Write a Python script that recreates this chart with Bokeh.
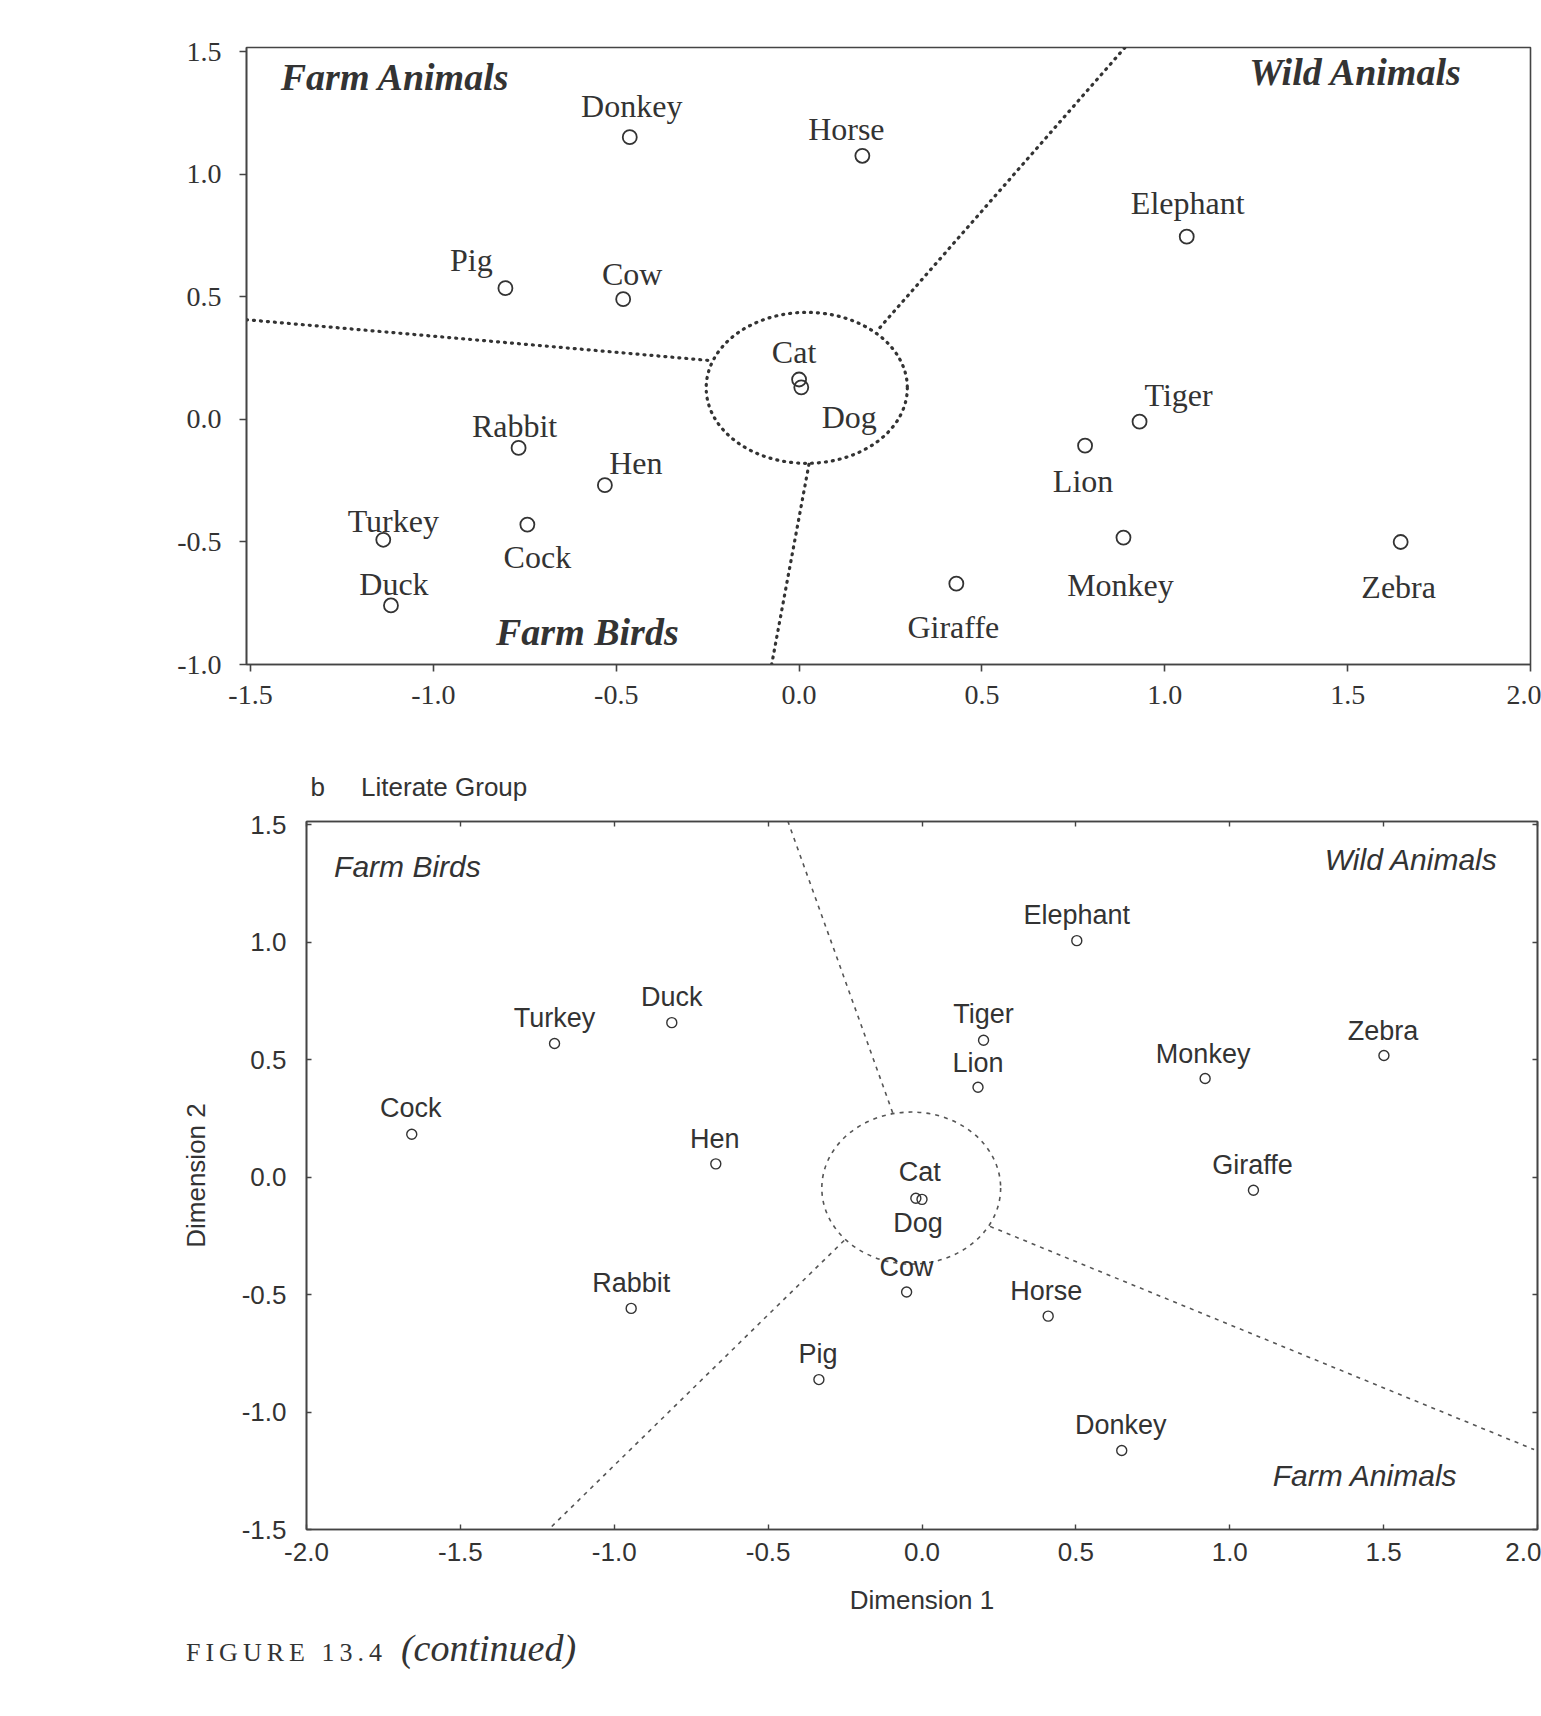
from bokeh.plotting import figure
from bokeh.models import (ColumnDataSource, Range1d, LinearAxis, SingleIntervalTicker,
                          PrintfTickFormatter, Div)
from bokeh.core.properties import value
from bokeh.embed import file_html
from bokeh.resources import INLINE

# ---------------- panel a (top) data ----------------
a_animals = ["Donkey", "Horse", "Elephant", "Pig", "Cow", "Cat", "Dog", "Tiger", "Lion",
             "Rabbit", "Hen", "Turkey", "Cock", "Duck", "Monkey", "Zebra", "Giraffe"]
a_dim1 = [-0.463, 0.173, 1.060, -0.803, -0.481, 0.000, 0.006, 0.931, 0.782,
          -0.767, -0.531, -1.137, -0.743, -1.116, 0.887, 1.645, 0.430]
a_dim2 = [1.152, 1.076, 0.746, 0.536, 0.491, 0.163, 0.131, -0.009, -0.107,
          -0.116, -0.268, -0.491, -0.429, -0.759, -0.482, -0.500, -0.670]
a_regions = ["Farm Animals", "Wild Animals", "Farm Birds"]
a_region_x = [-1.104, 1.522, -0.579]
a_region_y = [1.397, 1.420, -0.866]
a_bound_x = [[-1.511, -0.248], [0.221, 0.907], [0.027, -0.075]]
a_bound_y = [[0.407, 0.241], [0.375, 1.545], [-0.183, -1.000]]
a_cluster_x = [0.021]
a_cluster_y = [0.129]
a_cluster_w = [0.550]
a_cluster_h = [0.616]

# ---------------- panel b (bottom) data ----------------
b_animals = ["Elephant", "Duck", "Turkey", "Tiger", "Lion", "Zebra", "Monkey", "Cock", "Hen",
             "Cat", "Dog", "Giraffe", "Cow", "Rabbit", "Horse", "Pig", "Donkey"]
b_dim1 = [0.503, -0.813, -1.194, 0.200, 0.182, 1.501, 0.920, -1.658, -0.670,
          -0.020, 0.000, 1.077, -0.050, -0.945, 0.410, -0.335, 0.649]
b_dim2 = [1.006, 0.657, 0.568, 0.582, 0.382, 0.517, 0.419, 0.182, 0.056,
          -0.090, -0.095, -0.056, -0.489, -0.559, -0.592, -0.862, -1.164]
b_regions = ["Farm Birds", "Wild Animals", "Farm Animals"]
b_region_x = [-1.672, 1.590, 1.440]
b_region_y = [1.323, 1.351, -1.272]
b_bound_x = [[-0.446, -0.093], [-0.253, -1.213], [0.221, 1.989]]
b_bound_y = [[1.551, 0.265], [-0.270, -1.500], [-0.210, -1.160]]
b_cluster_x = [-0.035]
b_cluster_y = [-0.047]
b_cluster_w = [0.581]
b_cluster_h = [0.647]

x_label_b = "Dimension 1"
y_label_b = "Dimension 2"
panel_b_title = "b\u00a0\u00a0\u00a0\u00a0\u00a0Literate Group"

# ---------------- label placement (style, screen px) ----------------
a_offsets = {"Donkey": (2, -31), "Horse": (-16, -27), "Elephant": (1, -34), "Pig": (-34, -28),
             "Cow": (9, -25), "Cat": (-5, -28), "Dog": (48, 30), "Tiger": (39, -27),
             "Lion": (-2, 35), "Rabbit": (-4, -22), "Hen": (31, -22), "Turkey": (10, -19),
             "Cock": (10, 32), "Duck": (3, -21), "Monkey": (-3, 47), "Zebra": (-2, 45),
             "Giraffe": (-3, 43)}
b_offsets = {"Elephant": (0, -26), "Duck": (0, -26), "Turkey": (0, -26), "Tiger": (0, -26),
             "Lion": (0, -24), "Zebra": (-1, -25), "Monkey": (-2, -25), "Cock": (-1, -26),
             "Hen": (-1, -25), "Cat": (4, -26), "Dog": (-4, 24), "Giraffe": (-1, -25),
             "Cow": (0, -25), "Rabbit": (0, -25), "Horse": (-2, -25), "Pig": (-1, -26),
             "Donkey": (-1, -26)}

INK = "#333333"
SERIF = "Liberation Serif"
SANS = "Liberation Sans"

# ======================= panel a =======================
src_a = ColumnDataSource(dict(x=a_dim1, y=a_dim2, name=a_animals,
                              dx=[a_offsets[n][0] for n in a_animals],
                              dy=[a_offsets[n][1] for n in a_animals]))

pa = figure(width=1541, height=748, x_range=Range1d(-1.511, 2.0), y_range=Range1d(-1.0, 1.518),
            output_backend="svg", toolbar_location=None,
            min_border_left=246, min_border_right=11, min_border_top=47, min_border_bottom=84,
            background_fill_color="white", border_fill_color="white",
            outline_line_color="#444444", outline_line_width=1.6)
pa.xgrid.visible = False
pa.ygrid.visible = False
for ax in (pa.below[0], pa.left[0]):
    ax.ticker = SingleIntervalTicker(interval=0.5, num_minor_ticks=0)
    ax.formatter = PrintfTickFormatter(format="%.1f")
    ax.major_tick_out = 7
    ax.major_tick_in = 0
    ax.minor_tick_out = 0
    ax.major_tick_line_color = "#444444"
    ax.major_tick_line_width = 1.6
    ax.axis_line_color = "#444444"
    ax.axis_line_width = 1.6
    ax.major_label_text_font = SERIF
    ax.major_label_text_font_size = "28px"
    ax.major_label_text_color = INK
pa.below[0].major_label_standoff = 14
pa.left[0].major_label_standoff = 18

pa.multi_line(xs=a_bound_x, ys=a_bound_y, line_color="#333333", line_width=3.2,
              line_dash="1 6", line_cap="round")
pa.ellipse(x=a_cluster_x, y=a_cluster_y, width=a_cluster_w, height=a_cluster_h,
           fill_color=None, line_color="#333333", line_width=3.2, line_dash="1 6", line_cap="round")
pa.scatter(x="x", y="y", source=src_a, marker="circle", size=14, fill_color=None,
           line_color="#333333", line_width=1.8)
pa.text(x="x", y="y", text="name", source=src_a, x_offset="dx", y_offset="dy",
        text_align="center", text_baseline="middle", text_font=value(SERIF),
        text_font_size="32px", text_color=INK)
pa.text(x=a_region_x, y=a_region_y, text=a_regions, text_align="center", text_baseline="middle",
        text_font=value(SERIF), text_font_style="bold italic", text_font_size="38px",
        text_color=INK)

# ======================= panel b =======================
src_b = ColumnDataSource(dict(x=b_dim1, y=b_dim2, name=b_animals,
                              dx=[b_offsets[n][0] for n in b_animals],
                              dy=[b_offsets[n][1] for n in b_animals]))

pb = figure(width=1541, height=880, x_range=Range1d(-2.0, 2.0), y_range=Range1d(-1.5, 1.513),
            output_backend="svg", toolbar_location=None,
            min_border_left=306, min_border_right=4, min_border_top=73, min_border_bottom=99,
            background_fill_color="white", border_fill_color="white",
            outline_line_color="#444444", outline_line_width=1.6)
pb.xgrid.visible = False
pb.ygrid.visible = False
pb.add_layout(LinearAxis(), "above")
pb.add_layout(LinearAxis(), "right")
for ax in (pb.below[0], pb.left[0], pb.above[0], pb.right[0]):
    ax.ticker = SingleIntervalTicker(interval=0.5, num_minor_ticks=0)
    ax.formatter = PrintfTickFormatter(format="%.1f")
    ax.major_tick_out = 0
    ax.major_tick_in = 5
    ax.minor_tick_out = 0
    ax.minor_tick_in = 0
    ax.major_tick_line_color = "#444444"
    ax.major_tick_line_width = 1.4
    ax.axis_line_color = "#444444"
    ax.axis_line_width = 1.6
    ax.major_label_text_font = SANS
    ax.major_label_text_font_size = "26px"
    ax.major_label_text_color = INK
for ax in (pb.above[0], pb.right[0]):
    ax.major_label_text_font_size = "0px"
    ax.major_label_text_color = None
    ax.major_label_standoff = 0
bx = pb.below[0]
ly = pb.left[0]
bx.major_label_standoff = 13
ly.major_label_standoff = 20
bx.axis_label = x_label_b
ly.axis_label = y_label_b
for ax in (bx, ly):
    ax.axis_label_text_font = SANS
    ax.axis_label_text_font_size = "26px"
    ax.axis_label_text_font_style = "normal"
    ax.axis_label_text_color = INK
bx.axis_label_standoff = 21
ly.axis_label_standoff = 28

pb.title.text = panel_b_title
pb.title.align = "left"
pb.title.offset = 4
pb.title.standoff = 40
pb.title.text_font = SANS
pb.title.text_font_size = "26px"
pb.title.text_font_style = "normal"
pb.title.text_color = INK

pb.multi_line(xs=b_bound_x, ys=b_bound_y, line_color="#555555", line_width=1.6, line_dash="4 5")
pb.ellipse(x=b_cluster_x, y=b_cluster_y, width=b_cluster_w, height=b_cluster_h,
           fill_color=None, line_color="#555555", line_width=1.6, line_dash="4 5")
pb.scatter(x="x", y="y", source=src_b, marker="circle", size=10, fill_color=None,
           line_color="#333333", line_width=1.4)
pb.text(x="x", y="y", text="name", source=src_b, x_offset="dx", y_offset="dy",
        text_align="center", text_baseline="middle", text_font=value(SANS),
        text_font_size="27px", text_color=INK)
pb.text(x=b_region_x, y=b_region_y, text=b_regions, text_align="center", text_baseline="middle",
        text_font=value(SANS), text_font_style="italic", text_font_size="30px", text_color=INK)

caption = Div(
    text=('<div style="position:relative;top:-7px;padding-left:186px;color:#333;white-space:nowrap;'
          'font-family:\'Liberation Serif\';">'
          '<span style="font-size:26px;letter-spacing:5px;">FIGURE 13.4</span>'
          '<span style="font-size:38px;font-style:italic;margin-left:14px;">(continued)</span></div>'),
    width=1541, height=80, margin=(0, 0, 0, 0))

open("out.html", "w").write(file_html([pa, pb, caption], INLINE))
